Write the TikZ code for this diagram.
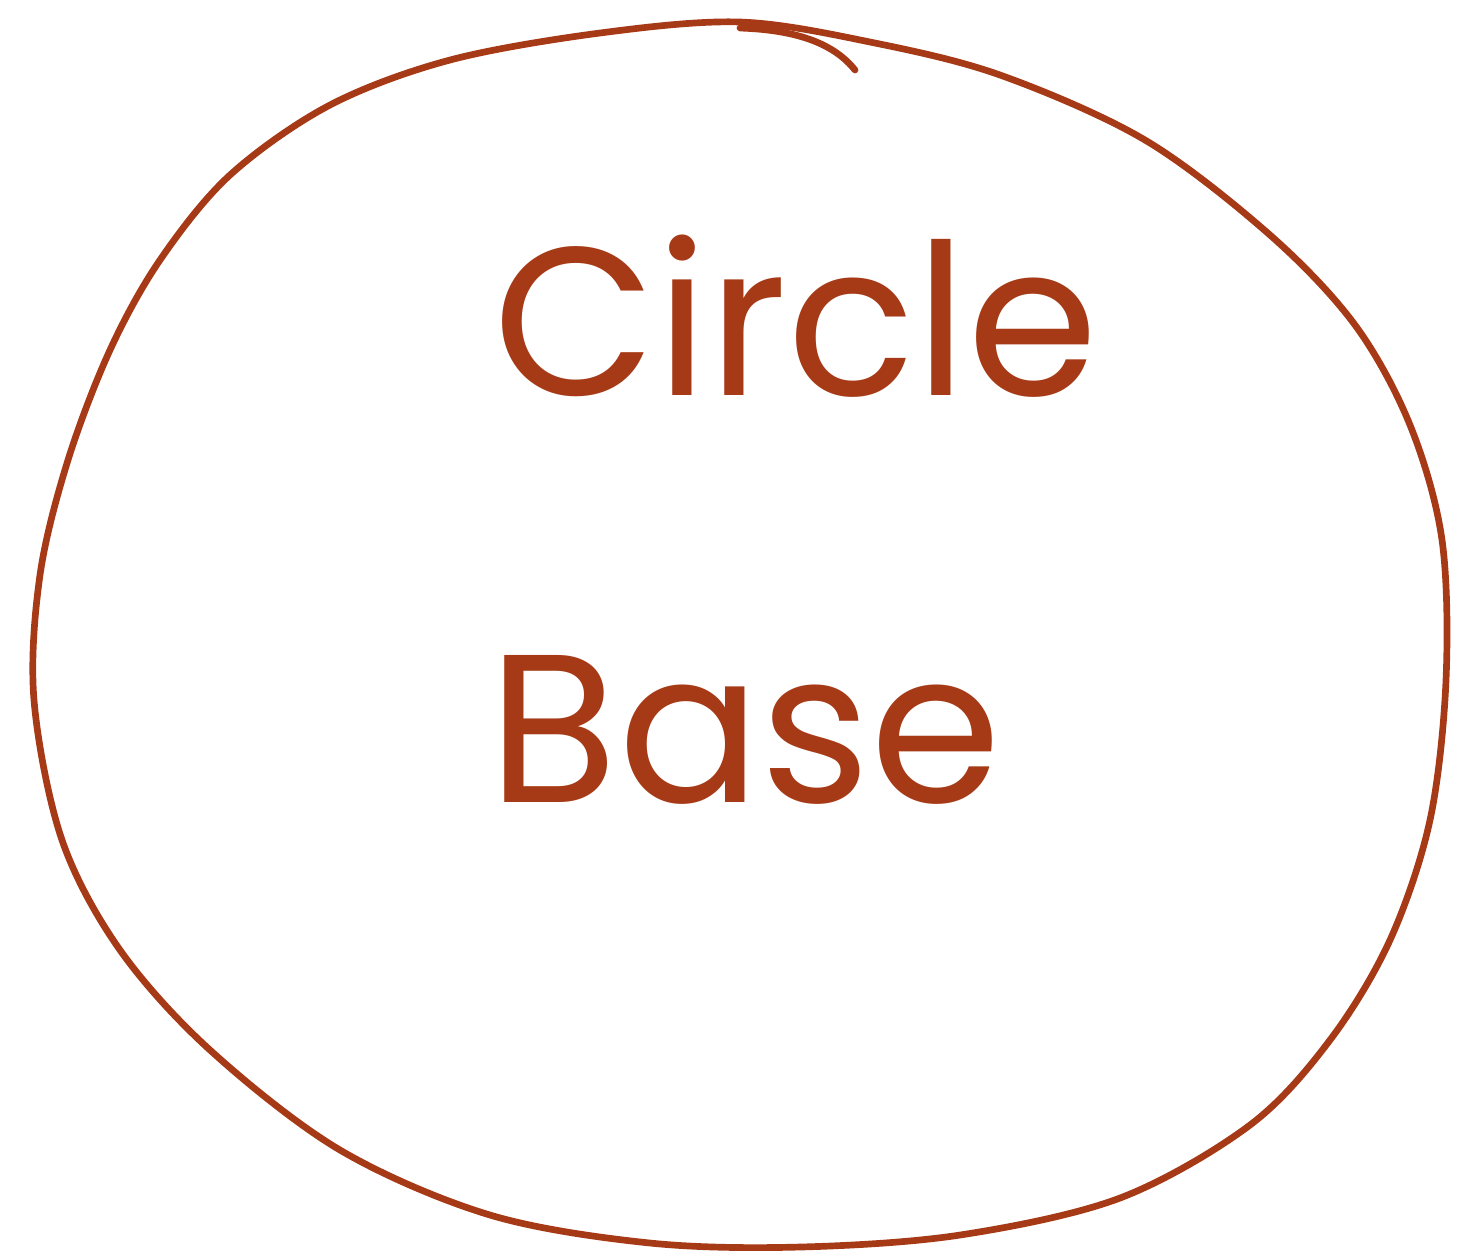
\documentclass[tikz,border=0pt]{standalone}
\usepackage{fontspec}
\setmainfont{Poppins}
\definecolor{rust}{RGB}{166,58,22}
\tikzset{
  pen/.style={draw=rust, line width=1.9pt, line cap=round, line join=round},
  label/.style={text=rust, font=\fontsize{60}{60}\selectfont, inner sep=0pt, anchor=base west}
}
\begin{document}
\begin{tikzpicture}[x=0.01cm,y=-0.01cm]
\useasboundingbox[fill=white] (0,0) rectangle (1458,1259);
% hand-drawn circle outline
\draw[pen] plot[smooth cycle, tension=0.55] coordinates {
 (740,22) (600,33) (450,60) (330,105) (230,175) (160,260) (110,350) (68,460) (40,575)
 (34,700) (62,840) (120,950) (210,1050) (340,1150) (490,1215) (650,1243) (800,1247)
 (960,1235) (1120,1198) (1250,1125) (1330,1040) (1390,940) (1430,820) (1446,680)
 (1442,540) (1410,425) (1355,325) (1270,235) (1145,140) (1000,75) (870,42)};
% overlapping tail at the top
\draw[pen] (740,28) .. controls (800,30) and (835,45) .. (855,70);
% text
\node[label] (circ) at (493,395) {Circle};
\node[label] (base) at (488,802) {Base};
\end{tikzpicture}
\end{document}
